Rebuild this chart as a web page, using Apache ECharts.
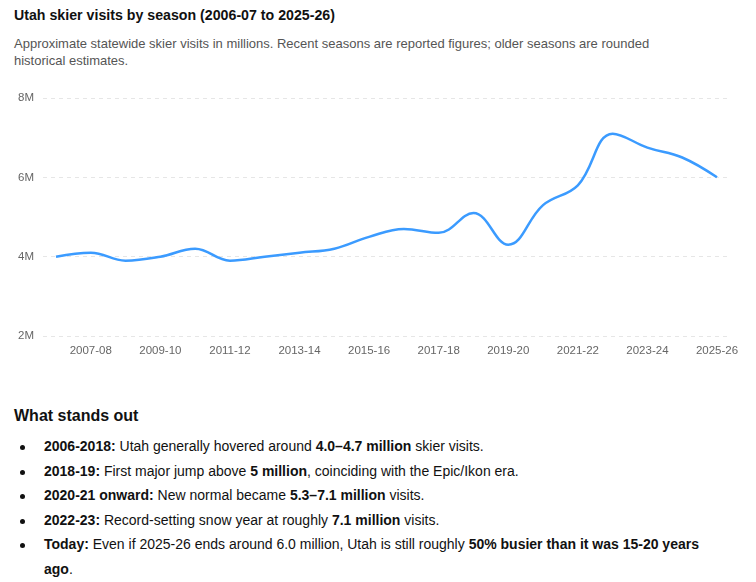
<!DOCTYPE html>
<html><head><meta charset="utf-8">
<script src="https://cdn.jsdelivr.net/npm/echarts@6/dist/echarts.min.js"></script>
<style>
html,body{margin:0;padding:0;background:#fff;width:756px;height:582px;overflow:hidden;font-family:"Liberation Sans","Noto Sans",Arial,sans-serif;}
#title{position:absolute;left:14px;top:7px;font-size:14.2px;font-weight:bold;color:#111;white-space:nowrap;}
#sub{position:absolute;left:14px;top:35px;width:660px;font-size:13px;line-height:17px;color:#555;}
#chart{position:absolute;left:0;top:80px;width:756px;height:290px;}
#h2{position:absolute;left:14px;top:407px;font-size:16px;font-weight:bold;color:#111;white-space:nowrap;}
ul{position:absolute;left:0;top:434px;margin:0;padding:0 0 0 44px;width:670px;font-size:14px;line-height:24.5px;color:#111;list-style:none;}
li{margin:0;padding:0;position:relative;}
li::before{content:"";position:absolute;left:-24px;top:11px;width:5px;height:5px;border-radius:50%;background:#111;}
b{font-weight:bold;}
</style></head><body>
<div id="title">Utah skier visits by season (2006-07 to 2025-26)</div>
<div id="sub">Approximate statewide skier visits in millions. Recent seasons are reported figures; older seasons are rounded historical estimates.</div>
<div id="chart"></div>
<div id="h2">What stands out</div>
<ul>
<li><b>2006-2018:</b> Utah generally hovered around <b>4.0–4.7 million</b> skier visits.</li>
<li><b>2018-19:</b> First major jump above <b>5 million</b>, coinciding with the Epic/Ikon era.</li>
<li><b>2020-21 onward:</b> New normal became <b>5.3–7.1 million</b> visits.</li>
<li><b>2022-23:</b> Record-setting snow year at roughly <b>7.1 million</b> visits.</li>
<li><b>Today:</b> Even if 2025-26 ends around 6.0 million, Utah is still roughly <b>50% busier than it was 15-20 years ago</b>.</li>
</ul>
<script>
const seasons = ["2006-07","2007-08","2008-09","2009-10","2010-11","2011-12","2012-13","2013-14","2014-15","2015-16","2016-17","2017-18","2018-19","2019-20","2020-21","2021-22","2022-23","2023-24","2024-25","2025-26"];
const visitsMillions = [4.0,4.1,3.9,4.0,4.2,3.9,4.0,4.1,4.2,4.5,4.7,4.6,5.1,4.3,5.3,5.8,7.1,6.75,6.5,6.0];
const yTicks = {min:2, max:8, interval:2};

const chart = echarts.init(document.getElementById('chart'));
const gridY = {min:yTicks.min, max:yTicks.max, interval:yTicks.interval};
chart.setOption({
  animation:false,
  grid:[
    {left:43, right:29, top:18, bottom:34},
    {left:56, right:39, top:18, bottom:34}
  ],
  xAxis:[
    {gridIndex:0, type:'category', data:seasons, show:false},
    {gridIndex:1, type:'category', data:seasons, boundaryGap:false,
     axisLine:{show:false}, axisTick:{show:false},
     axisLabel:{interval:(i)=>i%2===1, color:'#666', fontSize:11.5, margin:9, fontFamily:'Liberation Sans'}}
  ],
  yAxis:[
    Object.assign({gridIndex:0, type:'value',
     axisLine:{show:false}, axisTick:{show:false},
     axisLabel:{formatter:(v)=>v+'M', color:'#666', fontSize:11.5, margin:9, fontFamily:'Liberation Sans'},
     splitLine:{lineStyle:{type:[4,4], color:'#e6e6e6'}}}, gridY),
    Object.assign({gridIndex:1, type:'value', show:false, splitLine:{show:false}}, gridY)
  ],
  series:[{
    type:'line', xAxisIndex:1, yAxisIndex:1, data:visitsMillions, smooth:0.4,
    showSymbol:false, lineStyle:{color:'#3b9bff', width:2.5}, itemStyle:{color:'#3b9bff'}
  }]
});
</script>
</body></html>
